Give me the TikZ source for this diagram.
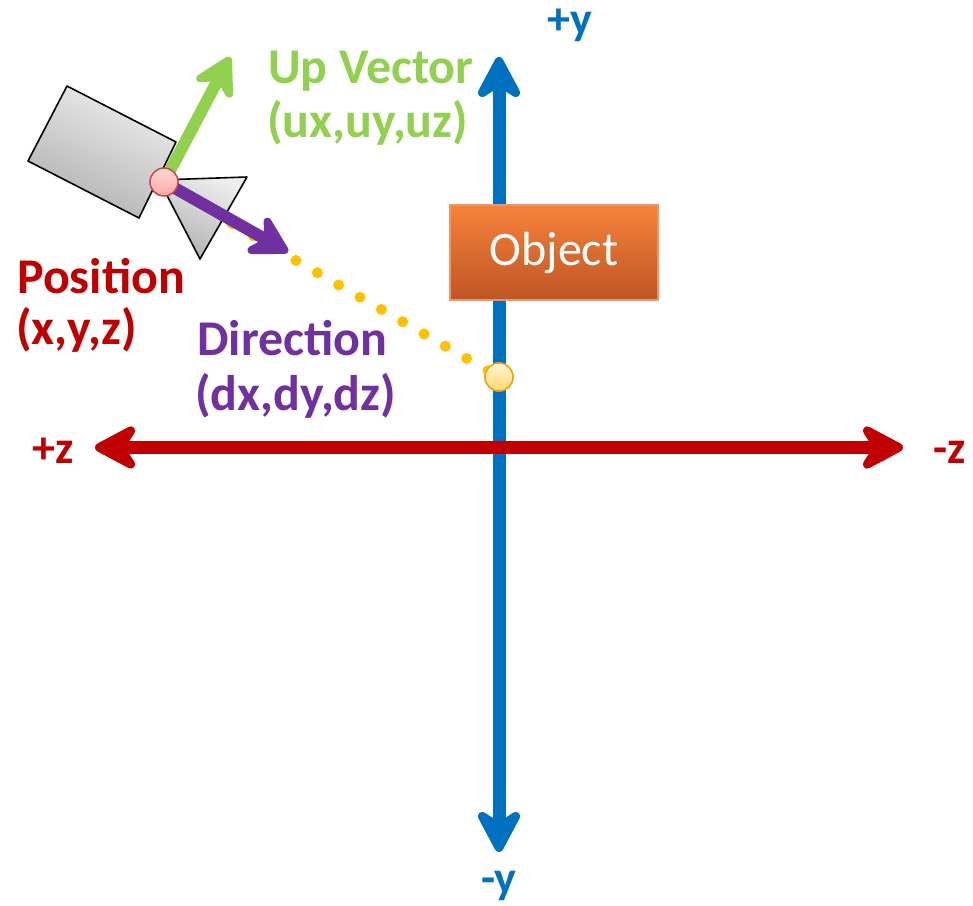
\documentclass[tikz,border=0pt]{standalone}
\usepackage{fontspec}
\setmainfont{Carlito}
\usetikzlibrary{arrows.meta}

\definecolor{axisred}{RGB}{192,0,0}
\definecolor{axisblue}{RGB}{0,112,192}
\definecolor{upgreen}{RGB}{146,208,80}
\definecolor{dirpurple}{RGB}{112,48,160}
\definecolor{dotyellow}{RGB}{255,192,0}
\definecolor{objtop}{RGB}{247,130,60}
\definecolor{objbot}{RGB}{190,86,36}
\definecolor{objedge}{RGB}{240,150,100}
\definecolor{camlight}{RGB}{238,238,238}
\definecolor{camdark}{RGB}{176,176,176}

\tikzset{
  axisline/.style={line width=13pt,
    {Stealth[length=53pt,width=56pt,inset=18pt,round]}-{Stealth[length=53pt,width=56pt,inset=18pt,round]}},
  vecline/.style={line width=12pt, -{Stealth[length=48pt,width=54pt,inset=17pt,round]}},
  lbl/.style={inner sep=0pt, anchor=base west, font=\fontsize{50}{56}\selectfont\bfseries},
  axlbl/.style={inner sep=0pt, anchor=base, font=\fontsize{46}{52}\selectfont\bfseries},
  campart/.style={draw=black, line width=1.6pt, line join=round, top color=camlight, bottom color=camdark, shading angle=-25},
  dotline/.style={draw=dotyellow, line width=11pt, line cap=round, dash pattern=on 0pt off 24.6pt},
  posdot/.style={circle, draw={rgb,255:red,200;green,70;blue,70}, line width=1.5pt, minimum size=28pt, inner sep=0pt,
    top color={rgb,255:red,255;green,215;blue,215}, bottom color={rgb,255:red,255;green,170;blue,170}},
  tgtdot/.style={circle, draw={rgb,255:red,235;green,165;blue,20}, line width=1.5pt, minimum size=28pt, inner sep=0pt,
    top color={rgb,255:red,255;green,246;blue,215}, bottom color={rgb,255:red,255;green,215;blue,110}},
  objbox/.style={draw=objedge, line width=1.5pt, top color=objtop, bottom color=objbot, minimum width=208pt,
    minimum height=95pt, inner sep=0pt, text=white, font=\fontsize{48}{54}\selectfont},
}

\begin{document}
\begin{tikzpicture}[x=1pt, y=-1pt]
  \useasboundingbox (0,0) rectangle (973,905);

  % axis end points
  \coordinate (ytop) at (499,57);
  \coordinate (ybot) at (499,852);
  \coordinate (zleft) at (95,447.5);
  \coordinate (zright) at (903,447.5);

  % vertical axis, then horizontal axis on top of it
  \draw[axisline, axisblue] (ybot) -- (ytop);
  \draw[axisline, axisred] (zleft) -- (zright);

  % object on the vertical axis
  \node[objbox] (obj) at (554,252.5) {Object};

  % camera position and the point it looks at
  \coordinate (pos) at (164,182);
  \coordinate (ray) at (168,187);
  \node[tgtdot] (tgt) at (499,377) {};

  % line of sight
  \draw[dotline] (ray) -- (tgt.center);
  \node[tgtdot] at (tgt) {};

  % camera body and lens
  \path[campart] (67,86) -- (176,142) -- (139,218) -- (28,161) -- cycle;
  \path[campart] (159,180) -- (247,177) -- (200,259) -- cycle;

  % up and direction vectors
  \coordinate (uptip) at (230,57);
  \coordinate (dirtip) at (288,252);
  \draw[vecline, upgreen] (pos) -- (uptip);
  \draw[vecline, dirpurple] (pos) -- (dirtip);
  \node[posdot] (posdot) at (pos) {};

  % labels
  \node[lbl, text=upgreen] (uplbl1) at (268,83) {Up Vector};
  \node[lbl, text=upgreen] (uplbl2) at (267,137) {(ux,uy,uz)};
  \node[lbl, text=axisred] (poslbl1) at (17,293) {Position};
  \node[lbl, text=axisred] (poslbl2) at (16,344) {(x,y,z)};
  \node[lbl, text=dirpurple] (dirlbl1) at (197,355) {Direction};
  \node[lbl, text=dirpurple] (dirlbl2) at (195,410) {(dx,dy,dz)};

  \node[axlbl, text=axisblue] (lyp) at (570,34) {+y};
  \node[axlbl, text=axisblue] (lym) at (499,893) {-y};
  \node[axlbl, text=axisred] (lzp) at (53,463) {+z};
  \node[axlbl, text=axisred] (lzm) at (950,463) {-z};
\end{tikzpicture}
\end{document}
